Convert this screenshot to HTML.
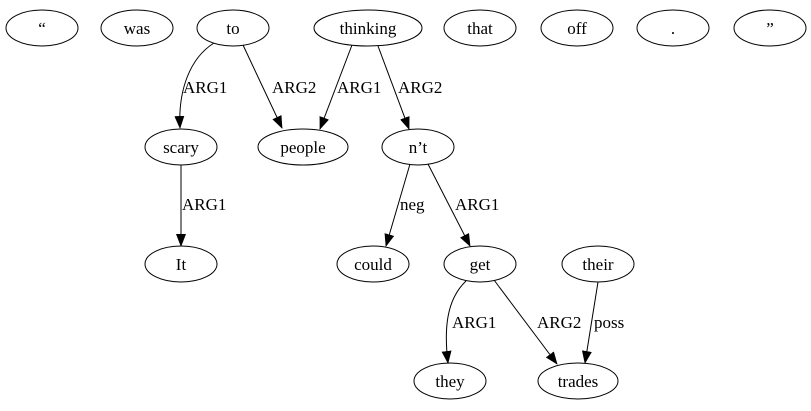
<!DOCTYPE html>
<html><head><meta charset="utf-8"><style>html,body{margin:0;padding:0;background:#fff}svg{display:block}</style></head>
<body>
<svg width="811" height="411" viewBox="0 0 811 411" xmlns="http://www.w3.org/2000/svg" font-family="'Liberation Serif', serif" font-size="17">
<defs><marker id="a" markerWidth="13" markerHeight="10" refX="12" refY="5" orient="auto" markerUnits="userSpaceOnUse"><path d="M0,0 L13,5 L0,10 Z" fill="#000"/></marker></defs>
<g fill="none" stroke="#000" stroke-width="1">
<ellipse cx="42" cy="28" rx="36" ry="18"/>
<ellipse cx="137" cy="28" rx="36" ry="18"/>
<ellipse cx="233" cy="28" rx="36" ry="18"/>
<ellipse cx="368" cy="28" rx="54" ry="18"/>
<ellipse cx="480" cy="28" rx="36" ry="18"/>
<ellipse cx="577" cy="28" rx="36" ry="18"/>
<ellipse cx="673" cy="28" rx="36" ry="18"/>
<ellipse cx="770" cy="28" rx="36" ry="18"/>
<ellipse cx="181" cy="147" rx="36" ry="18"/>
<ellipse cx="303" cy="147" rx="45" ry="18"/>
<ellipse cx="418" cy="147" rx="36" ry="18"/>
<ellipse cx="181" cy="264" rx="36" ry="18"/>
<ellipse cx="373" cy="264" rx="36" ry="18"/>
<ellipse cx="480" cy="264" rx="36" ry="18"/>
<ellipse cx="598" cy="264" rx="36" ry="18"/>
<ellipse cx="450" cy="381" rx="36" ry="18"/>
<ellipse cx="578" cy="381" rx="40" ry="18"/>
<path d="M214,43 C190,58 178,90 180,128" marker-end="url(#a)"/>
<path d="M243,45 L282,128" marker-end="url(#a)"/>
<path d="M352,45 L320,129" marker-end="url(#a)"/>
<path d="M378,46 L409,129" marker-end="url(#a)"/>
<path d="M181,165 L181,246" marker-end="url(#a)"/>
<path d="M410,164 L386,246" marker-end="url(#a)"/>
<path d="M428,164 L470,246" marker-end="url(#a)"/>
<path d="M466,281 C446,300 444,330 448,363" marker-end="url(#a)"/>
<path d="M494,280 L557,364" marker-end="url(#a)"/>
<path d="M598,282 L585,363" marker-end="url(#a)"/>
</g>
<g text-anchor="middle" fill="#000">
<text x="42" y="34">“</text><text x="137" y="34">was</text><text x="233" y="34">to</text><text x="368" y="34">thinking</text>
<text x="480" y="34">that</text><text x="577" y="34">off</text><text x="673" y="34">.</text><text x="770" y="34">”</text>
<text x="181" y="153">scary</text><text x="303" y="153">people</text><text x="418" y="153">n’t</text>
<text x="181" y="270">It</text><text x="373" y="270">could</text><text x="480" y="270">get</text><text x="598" y="270">their</text>
<text x="450" y="387">they</text><text x="578" y="387">trades</text>
</g>
<g fill="#000">
<text x="183" y="93">ARG1</text><text x="272" y="93">ARG2</text><text x="337" y="93">ARG1</text><text x="398" y="93">ARG2</text>
<text x="182" y="210">ARG1</text><text x="400" y="210">neg</text><text x="455" y="210">ARG1</text>
<text x="452" y="328">ARG1</text><text x="537" y="328">ARG2</text><text x="594" y="328">poss</text>
</g>
</svg>
</body></html>
